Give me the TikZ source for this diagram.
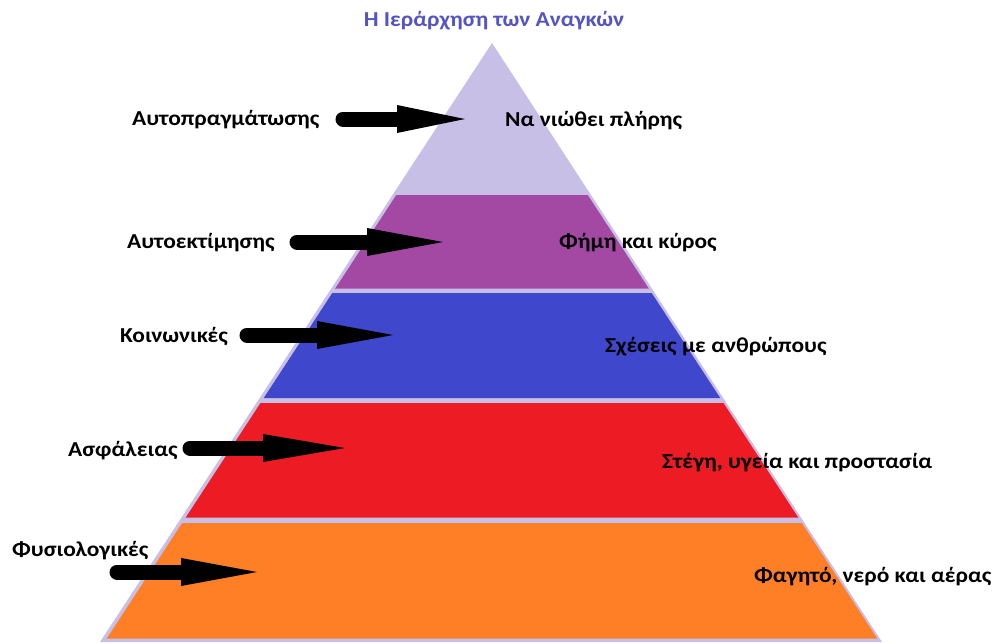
\documentclass[tikz,border=0pt]{standalone}
\usepackage{fontspec}
\setmainfont{Carlito}[FakeStretch=1.1]
\usetikzlibrary{arrows.meta}
\definecolor{lav}{RGB}{200,191,231}
\definecolor{purp}{RGB}{163,73,164}
\definecolor{indg}{RGB}{63,72,204}
\definecolor{redc}{RGB}{237,28,36}
\definecolor{oran}{RGB}{255,127,39}
\definecolor{titlec}{RGB}{84,84,196}
\tikzset{
  lbl/.style={inner sep=0pt, font=\fontsize{21.3}{24}\selectfont\bfseries, text=black},
  bigarrow/.style={line width=15pt, line cap=round, -{Triangle[length=#1,width=28pt,line width=0pt]}},
  bigarrow/.default=76pt,
}
\begin{document}
\begin{tikzpicture}[x=1pt,y=-1pt]
\useasboundingbox (0,0) rectangle (995,643);
% pyramid
\fill[lav] (492,43) -- (882,642) -- (100,642) -- cycle;
\newcommand{\band}[3]{%
  \fill[#1] ({492-(#2-43)*0.6528+3.5},#2) -- ({492+(#2-43)*0.6528-3.5},#2)
    -- ({492+(#3-43)*0.6528-3.5},#3) -- ({492-(#3-43)*0.6528+3.5},#3) -- cycle;}
\band{purp}{195}{288.5}
\band{indg}{293}{398}
\band{redc}{403}{517.5}
\band{oran}{523}{638.5}
% title
\node[lbl, anchor=base, text=titlec] (title) at (494,26) {Η Ιεράρχηση των Αναγκών};
% left labels
\node[lbl, anchor=base west] (L1) at (132,125) {Αυτοπραγμάτωσης};
\node[lbl, anchor=base west] (L2) at (127,248) {Αυτοεκτίμησης};
\node[lbl, anchor=base west] (L3) at (120,342) {Κοινωνικές};
\node[lbl, anchor=base west] (L4) at (68,456) {Ασφάλειας};
\node[lbl, anchor=base west] (L5) at (12,556) {Φυσιολογικές};
% right labels
\node[lbl, anchor=base west] (R1) at (505,126) {Να νιώθει πλήρης};
\node[lbl, anchor=base west] (R2) at (559,248) {Φήμη και κύρος};
\node[lbl, anchor=base west] (R3) at (605,352) {Σχέσεις με ανθρώπους};
\node[lbl, anchor=base west] (R4) at (662,468) {Στέγη, υγεία και προστασία};
\node[lbl, anchor=base west] (R5) at (754,582) {Φαγητό, νερό και αέρας};
% arrows
\coordinate (A1s) at (343,119); \coordinate (A1e) at (465,119);
\coordinate (A2s) at (297,242); \coordinate (A2e) at (443,242);
\coordinate (A3s) at (247,335); \coordinate (A3e) at (393,335);
\coordinate (A4s) at (190,448); \coordinate (A4e) at (345,448);
\coordinate (A5s) at (117,572); \coordinate (A5e) at (257,572);
\draw[bigarrow=68pt] (A1s) -- (A1e);
\draw[bigarrow] (A2s) -- (A2e);
\draw[bigarrow] (A3s) -- (A3e);
\draw[bigarrow=82pt] (A4s) -- (A4e);
\draw[bigarrow] (A5s) -- (A5e);
\end{tikzpicture}
\end{document}
